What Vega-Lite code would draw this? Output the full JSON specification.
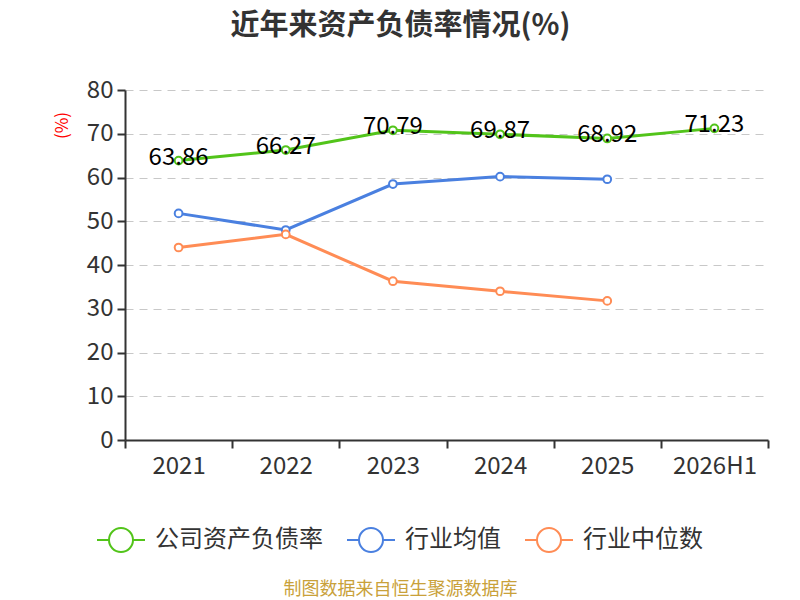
{
  "$schema": "https://vega.github.io/schema/vega-lite/v6.json",
  "width": 643,
  "height": 350,
  "autosize": {"type": "none"},
  "padding": {"left": 125, "top": 90, "right": 32, "bottom": 160},
  "background": "white",
  "title": {
    "text": "近年来资产负债率情况(%)",
    "anchor": "middle",
    "dx": -46,
    "offset": 37,
    "fontSize": 29,
    "fontWeight": "bold",
    "color": "#333333",
    "font": "Noto Sans CJK SC"
  },
  "data": {
    "values": [
      {"year": "2021", "series": "公司资产负债率", "value": 63.86},
      {"year": "2022", "series": "公司资产负债率", "value": 66.27},
      {"year": "2023", "series": "公司资产负债率", "value": 70.79},
      {"year": "2024", "series": "公司资产负债率", "value": 69.87},
      {"year": "2025", "series": "公司资产负债率", "value": 68.92},
      {"year": "2026H1", "series": "公司资产负债率", "value": 71.23},
      {"year": "2021", "series": "行业均值", "value": 51.8},
      {"year": "2022", "series": "行业均值", "value": 48.0},
      {"year": "2023", "series": "行业均值", "value": 58.5},
      {"year": "2024", "series": "行业均值", "value": 60.2},
      {"year": "2025", "series": "行业均值", "value": 59.6},
      {"year": "2021", "series": "行业中位数", "value": 44.0},
      {"year": "2022", "series": "行业中位数", "value": 47.0},
      {"year": "2023", "series": "行业中位数", "value": 36.3},
      {"year": "2024", "series": "行业中位数", "value": 34.0},
      {"year": "2025", "series": "行业中位数", "value": 31.8}
    ]
  },
  "encoding": {
    "x": {
      "field": "year",
      "type": "nominal",
      "sort": null,
      "scale": {"paddingInner": 0, "paddingOuter": 0},
      "axis": {
        "labelAngle": 0,
        "tickBand": "extent",
        "tickSize": 8,
        "labelPadding": 6,
        "title": "制图数据来自恒生聚源数据库",
        "titleColor": "#c9a13a",
        "titleFontSize": 18,
        "titleFontWeight": "normal",
        "titleFont": "Noto Sans CJK SC",
        "titleX": 275,
        "titlePadding": 102,
        "grid": false
      }
    },
    "y": {
      "field": "value",
      "type": "quantitative",
      "scale": {"domain": [0, 80]},
      "axis": {
        "values": [0, 10, 20, 30, 40, 50, 60, 70, 80],
        "tickSize": 8,
        "labelPadding": 4,
        "grid": true,
        "gridDash": [8, 6],
        "gridColor": "#c8c8c8",
        "title": "(%)",
        "titleColor": "red",
        "titleFontSize": 17,
        "titleFontWeight": "normal",
        "titleFont": "Noto Sans CJK SC",
        "titleX": -63,
        "titleY": 35,
        "titleAlign": "center",
        "titleBaseline": "middle"
      }
    }
  },
  "layer": [
    {
      "mark": {
        "type": "line",
        "strokeWidth": 3,
        "point": {"filled": false, "fill": "white", "size": 60, "strokeWidth": 2}
      },
      "encoding": {
        "color": {
          "field": "series",
          "type": "nominal",
          "scale": {
            "domain": ["公司资产负债率", "行业均值", "行业中位数"],
            "range": ["#52c41a", "#4a80e0", "#ff8c55"]
          },
          "legend": {
            "title": null,
            "orient": "none",
            "legendX": -29,
            "legendY": 425,
            "direction": "horizontal",
            "symbolType": "M-1,0L-0.5,0M0.5,0L1,0M-0.5,0A0.5,0.5,0,1,1,0.5,0A0.5,0.5,0,1,1,-0.5,0",
            "symbolSize": 2304,
            "symbolStrokeWidth": 2,
            "symbolFillColor": "white",
            "labelFontSize": 24,
            "labelFont": "Noto Sans CJK SC",
            "labelColor": "#333333",
            "labelOffset": 9,
            "columnPadding": 20,
            "labelLimit": 300
          }
        }
      }
    },
    {
      "transform": [{"filter": "datum.series === '公司资产负债率'"}],
      "mark": {
        "type": "text",
        "fontSize": 24,
        "font": "Noto Sans CJK SC",
        "color": "black",
        "baseline": "middle",
        "dy": -3
      },
      "encoding": {
        "text": {"field": "value", "type": "quantitative", "format": ".2f"}
      }
    }
  ],
  "config": {
    "view": {"stroke": null},
    "axis": {
      "labelFontSize": 24,
      "labelFont": "Noto Sans CJK SC",
      "labelColor": "#333333",
      "domainColor": "#333333",
      "domainWidth": 2,
      "tickColor": "#333333",
      "tickWidth": 2
    }
  }
}
